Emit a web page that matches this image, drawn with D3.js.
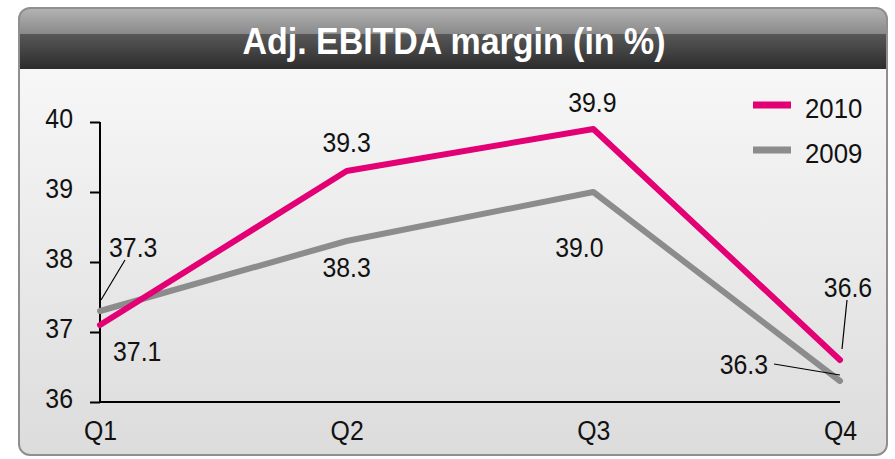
<!DOCTYPE html>
<html>
<head>
<meta charset="utf-8">
<script src="https://cdn.jsdelivr.net/npm/d3@7"></script>
<style>
  body { margin: 0; background: #fff; }
  svg { display: block; }
  text { font-family: "Liberation Sans", Arial, sans-serif; }
</style>
</head>
<body>
<svg></svg>
<script>
// chart data
const quarters = ['Q1', 'Q2', 'Q3', 'Q4']
const values2010 = [37.1, 39.3, 39.9, 36.6]
const values2009 = [37.3, 38.3, 39.0, 36.3]
const yTicks = [36, 37, 38, 39, 40]
const seriesNames = ['2010', '2009']
const title = 'Adj. EBITDA margin (in %)'

let svgWidth = 895
let svgHeight = 459
const magenta = '#e20074'
const grey = '#8c8c8c'
const squeeze = 0.92

let xScale, yScale

const svg = d3.select('svg')
  .attr('width', svgWidth)
  .attr('height', svgHeight)

// narrow the regular font a little, the original uses a condensed face
const narrow = (sel) => {
  sel.each(function () {
    const w = this.getComputedTextLength()
    this.setAttribute('textLength', w * squeeze)
    this.setAttribute('lengthAdjust', 'spacingAndGlyphs')
  })
}

const defs = svg.append('defs')

const headGrad = defs.append('linearGradient')
  .attr('id', 'head').attr('x1', 0).attr('y1', 0).attr('x2', 0).attr('y2', 1)
headGrad.append('stop').attr('offset', '0%').attr('stop-color', '#b4b4b4')
headGrad.append('stop').attr('offset', '42%').attr('stop-color', '#8a8a8a')
headGrad.append('stop').attr('offset', '42.5%').attr('stop-color', '#585858')
headGrad.append('stop').attr('offset', '100%').attr('stop-color', '#2c2c2c')

const bodyGrad = defs.append('linearGradient')
  .attr('id', 'body').attr('x1', 0).attr('y1', 0).attr('x2', 0).attr('y2', 1)
bodyGrad.append('stop').attr('offset', '0%').attr('stop-color', '#fbfbfb')
bodyGrad.append('stop').attr('offset', '100%').attr('stop-color', '#dcdcdc')

defs.append('clipPath').attr('id', 'panelClip')
  .append('rect')
  .attr('x', 19).attr('y', 8).attr('width', 868).attr('height', 447)
  .attr('rx', 11).attr('ry', 11)

const createPanel = () => {
  const g = svg.append('g').attr('clip-path', 'url(#panelClip)')
  g.append('rect')
    .attr('x', 19).attr('y', 8).attr('width', 868).attr('height', 447)
    .attr('fill', 'url(#body)')
  g.append('rect')
    .attr('x', 19).attr('y', 8).attr('width', 868).attr('height', 61)
    .attr('fill', 'url(#head)')

  svg.append('rect')
    .attr('x', 19).attr('y', 8).attr('width', 868).attr('height', 447)
    .attr('rx', 11).attr('ry', 11)
    .attr('fill', 'none')
    .attr('stroke', '#8f8f8f')
    .attr('stroke-width', 2)

  svg.append('text')
    .attr('x', 454).attr('y', 54)
    .attr('text-anchor', 'middle')
    .attr('fill', '#fff')
    .attr('font-size', 37)
    .attr('font-weight', 'bold')
    .attr('textLength', 423)
    .attr('lengthAdjust', 'spacingAndGlyphs')
    .text(title)
}

const createScales = () => {
  xScale = d3.scalePoint()
    .domain(quarters)
    .range([100, 840])

  yScale = d3.scaleLinear()
    .domain([36, 40])
    .range([402, 122])
}

const createAxes = () => {
  let yAxis = d3.axisLeft(yScale)
    .tickValues(yTicks)
    .tickSize(10)
    .tickPadding(17)
    .tickFormat(d3.format('d'))
  let ya = svg.append('g')
    .attr('transform', 'translate(100,0)')
    .call(yAxis)
  ya.select('.domain').attr('stroke', '#000').attr('stroke-width', 2)
    .attr('d', 'M0,' + yScale(40) + 'V' + yScale(36))
  ya.selectAll('.tick line').attr('stroke', '#000').attr('stroke-width', 2)
  ya.selectAll('.tick text')
    .attr('font-size', 27)
    .attr('fill', '#111')
    .attr('font-family', null)
    .attr('dy', '0.2em')
    .call(narrow)

  let xAxis = d3.axisBottom(xScale)
    .tickSize(0)
    .tickPadding(19)
  let xa = svg.append('g')
    .attr('transform', 'translate(0,' + yScale(36) + ')')
    .call(xAxis)
  xa.select('.domain').attr('stroke', '#000').attr('stroke-width', 2)
    .attr('d', 'M' + xScale('Q1') + ',0H' + xScale('Q4'))
  xa.selectAll('.tick text')
    .attr('font-size', 27)
    .attr('fill', '#111')
    .attr('font-family', null)
    .attr('dy', '0.71em')
    .call(narrow)
}

const createLines = () => {
  const line = d3.line()
    .x((d, i) => xScale(quarters[i]))
    .y(d => yScale(d))

  svg.append('path')
    .datum(values2009)
    .attr('d', line)
    .attr('fill', 'none')
    .attr('stroke', grey)
    .attr('stroke-width', 6)
    .attr('stroke-linecap', 'round')
    .attr('stroke-linejoin', 'round')

  svg.append('path')
    .datum(values2010)
    .attr('d', line)
    .attr('fill', 'none')
    .attr('stroke', magenta)
    .attr('stroke-width', 6)
    .attr('stroke-linecap', 'round')
    .attr('stroke-linejoin', 'round')
}

const createLabels = () => {
  // label offsets relative to the point (dx, dy of baseline, anchor)
  const labels2010 = [
    { dx: 13, dy: 36, anchor: 'start' },
    { dx: 0, dy: -19, anchor: 'middle' },
    { dx: -1, dy: -17, anchor: 'middle' },
    { dx: 8, dy: -63, anchor: 'middle' }
  ]
  const labels2009 = [
    { dx: 9, dy: -54, anchor: 'start' },
    { dx: 0, dy: 36, anchor: 'middle' },
    { dx: -14, dy: 65, anchor: 'middle' },
    { dx: -72, dy: -7, anchor: 'end' }
  ]
  const addLabels = (vals, offs) => {
    svg.append('g').selectAll('text')
      .data(vals)
      .enter()
      .append('text')
      .attr('x', (d, i) => xScale(quarters[i]) + offs[i].dx)
      .attr('y', (d, i) => yScale(d) + offs[i].dy)
      .attr('text-anchor', (d, i) => offs[i].anchor)
      .attr('font-size', 27)
      .attr('fill', '#111')
      .text(d => d.toFixed(1))
      .call(narrow)
  }
  addLabels(values2010, labels2010)
  addLabels(values2009, labels2009)

  // leader lines
  const leaders = [
    [[xScale('Q1') + 25, yScale(37.3) - 51], [xScale('Q1') + 1, yScale(37.3) - 11]],
    [[xScale('Q4') + 7, yScale(36.6) - 60], [xScale('Q4') + 2, yScale(36.6) - 11]],
    [[xScale('Q4') - 66, yScale(36.3) - 17], [xScale('Q4'), yScale(36.3) - 6]]
  ]
  svg.append('g').selectAll('line')
    .data(leaders)
    .enter()
    .append('line')
    .attr('x1', d => d[0][0]).attr('y1', d => d[0][1])
    .attr('x2', d => d[1][0]).attr('y2', d => d[1][1])
    .attr('stroke', '#000')
    .attr('stroke-width', 1.2)
}

const createLegend = () => {
  const colors = [magenta, grey]
  const lg = svg.append('g').attr('transform', 'translate(753,105)')
  const item = lg.selectAll('g')
    .data(seriesNames)
    .enter()
    .append('g')
    .attr('transform', (d, i) => 'translate(0,' + i * 45 + ')')
  item.append('line')
    .attr('x1', 0).attr('x2', 38)
    .attr('stroke', (d, i) => colors[i])
    .attr('stroke-width', 7)
  item.append('text')
    .attr('x', 52).attr('y', 13)
    .attr('font-size', 28)
    .attr('fill', '#111')
    .text(d => d)
    .call(narrow)
}

createPanel()
createScales()
createAxes()
createLines()
createLabels()
createLegend()
</script>
</body>
</html>
